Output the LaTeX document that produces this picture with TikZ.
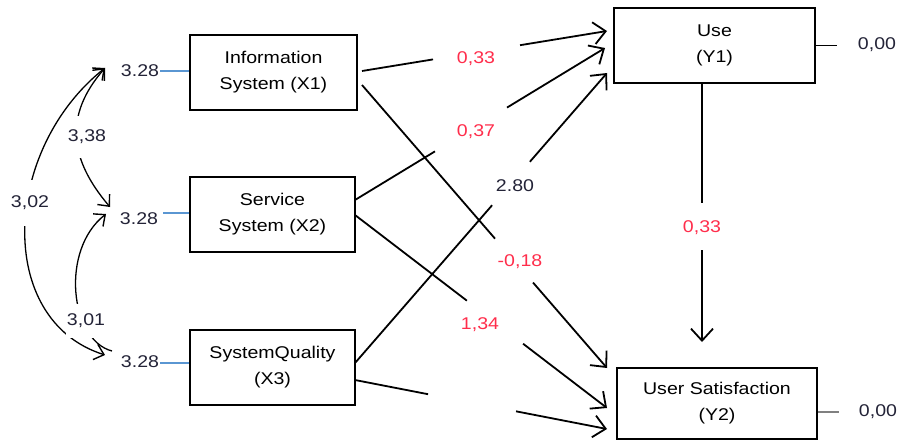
\documentclass[tikz,border=0pt]{standalone}
\usepackage{fontspec}
\setmainfont{Liberation Sans}[FakeStretch=1.15]
\usetikzlibrary{arrows.meta,calc}
\definecolor{redlab}{RGB}{255,45,75}
\definecolor{darklab}{RGB}{35,35,55}
\definecolor{bluel}{RGB}{90,150,210}
\tikzset{
  box/.style={draw, line width=1.5pt, align=center, inner sep=0pt,
    font=\fontsize{17}{26}\selectfont},
  con/.style={line width=1.8pt},
  tip/.style={-{Straight Barb[length=12pt,width=22pt,line width=1.8pt]}},
  ctip/.style={-{Straight Barb[length=9pt,width=16pt,line width=1.4pt]}},
  tipboth/.style={{Straight Barb[length=9pt,width=16pt,line width=1.4pt]}-{Straight Barb[length=9pt,width=16pt,line width=1.4pt]}},
  curv/.style={line width=1.3pt},
  coef/.style={text=redlab, font=\fontsize{17}{20}\selectfont, inner sep=1pt},
  num/.style={text=darklab, font=\fontsize{17}{20}\selectfont, inner sep=1pt},
  covlab/.style={num, fill=white, inner xsep=1pt, inner ysep=10pt},
}
\begin{document}
\begin{tikzpicture}[x=1pt,y=-1pt]
\useasboundingbox (0,0) rectangle (901,441);
% boxes
\node[box, minimum width=167pt, minimum height=75pt] (X1) at (273.5,72.5) {Information\\System (X1)};
\node[box, minimum width=165pt, minimum height=75pt] (X2) at (272.5,214.5) {Service\\System (X2)};
\node[box, minimum width=165pt, minimum height=75pt] (X3) at (272.5,367.5) {SystemQuality\\(X3)};
\node[box, minimum width=201pt, minimum height=75pt] (Y1) at (714.5,45.5) {Use\\(Y1)};
\node[box, minimum width=200pt, minimum height=71pt] (Y2) at (717,403.5) {User Satisfaction\\(Y2)};
% intercept labels and lines
\node[num] (r1) at (140,71) {3.28};
\node[num] (r2) at (139,219) {3.28};
\node[num] (r3) at (140,362) {3.28};
\draw[bluel, line width=1.1pt] (r1.east |- 0,71) -- (X1.west |- 0,71);
\draw[bluel, line width=1.1pt] (163,213) -- (X2.west |- 0,213);
\draw[bluel, line width=1.1pt] (r3.east |- 0,363) -- (X3.west |- 0,363);
% error terms
\coordinate (e1) at (837,45.5);
\coordinate (e2) at (839,412);
\draw[line width=1.4pt] (Y1.east) -- (e1);
\draw[gray, line width=1.4pt] (Y2.east |- e2) -- (e2);
\node[num] (z1) at (877,45) {0,00};
\node[num] (z2) at (878,412) {0,00};
% path X1 -> Y1
\coordinate (a1) at (362,71); \coordinate (b1) at (607,31);
\draw[con] (a1) -- ($(a1)!0.29!(b1)$);
\draw[con,tip] ($(a1)!0.645!(b1)$) -- (b1);
\node[coef] (c1) at (476,59) {0,33};
% path X2 -> Y1
\coordinate (a2) at (355,200); \coordinate (b2) at (605,48);
\draw[con] (a2) -- ($(a2)!0.32!(b2)$);
\draw[con,tip] ($(a2)!0.608!(b2)$) -- (b2);
\node[coef] (c2) at (476,132) {0,37};
% path X3 -> Y1
\coordinate (a3) at (355,363); \coordinate (b3) at (607,73);
\draw[con] (a3) -- ($(a3)!0.544!(b3)$);
\draw[con,tip] ($(a3)!0.694!(b3)$) -- (b3);
\node[num] (c3) at (515,186) {2.80};
% path X1 -> Y2
\coordinate (a4) at (362,85); \coordinate (b4) at (607,368);
\draw[con] (a4) -- ($(a4)!0.543!(b4)$);
\draw[con,tip] ($(a4)!0.698!(b4)$) -- (b4);
\node[coef] (c4) at (520,262) {-0,18};
% path X2 -> Y2
\coordinate (a5) at (355,215); \coordinate (b5) at (607,408);
\draw[con] (a5) -- ($(a5)!0.444!(b5)$);
\draw[con,tip] ($(a5)!0.667!(b5)$) -- (b5);
\node[coef] (c5) at (480,325) {1,34};
% path X3 -> Y2
\coordinate (a6) at (355,380); \coordinate (b6) at (607,429);
\draw[con] (a6) -- ($(a6)!0.29!(b6)$);
\draw[con,tip] ($(a6)!0.639!(b6)$) -- (b6);
% Y1 -> Y2
\coordinate (vs) at (Y1.south -| 702,0); \coordinate (vt) at (702,342);
\draw[con] (vs) -- ($(vs)!0.463!(vt)$);
\draw[con,tip] ($(vs)!0.645!(vt)$) -- (vt);
\node[coef] (c7) at (702,228) {0,33};
% covariances
\coordinate (T) at (105,68);
\coordinate (B) at (105,355);
\coordinate (M1) at (110,207);
\coordinate (M2) at (106,214);
\coordinate (B2) at (112,351);
\draw[curv,tipboth] (T) .. controls (2,150) and (-5,320) .. (B);
\draw[curv,tipboth] (T) .. controls (63,116) and (70,160) .. (M1);
\draw[curv,ctip] (B2) .. controls (70,340) and (60,250) .. (M2);
\node[covlab, inner ysep=16pt] (k1) at (30,203) {3,02};
\node[covlab, inner ysep=14pt] (k2) at (87,137) {3,38};
\node[covlab, inner ysep=10pt] (k3) at (86,321) {3,01};
\end{tikzpicture}
\end{document}
